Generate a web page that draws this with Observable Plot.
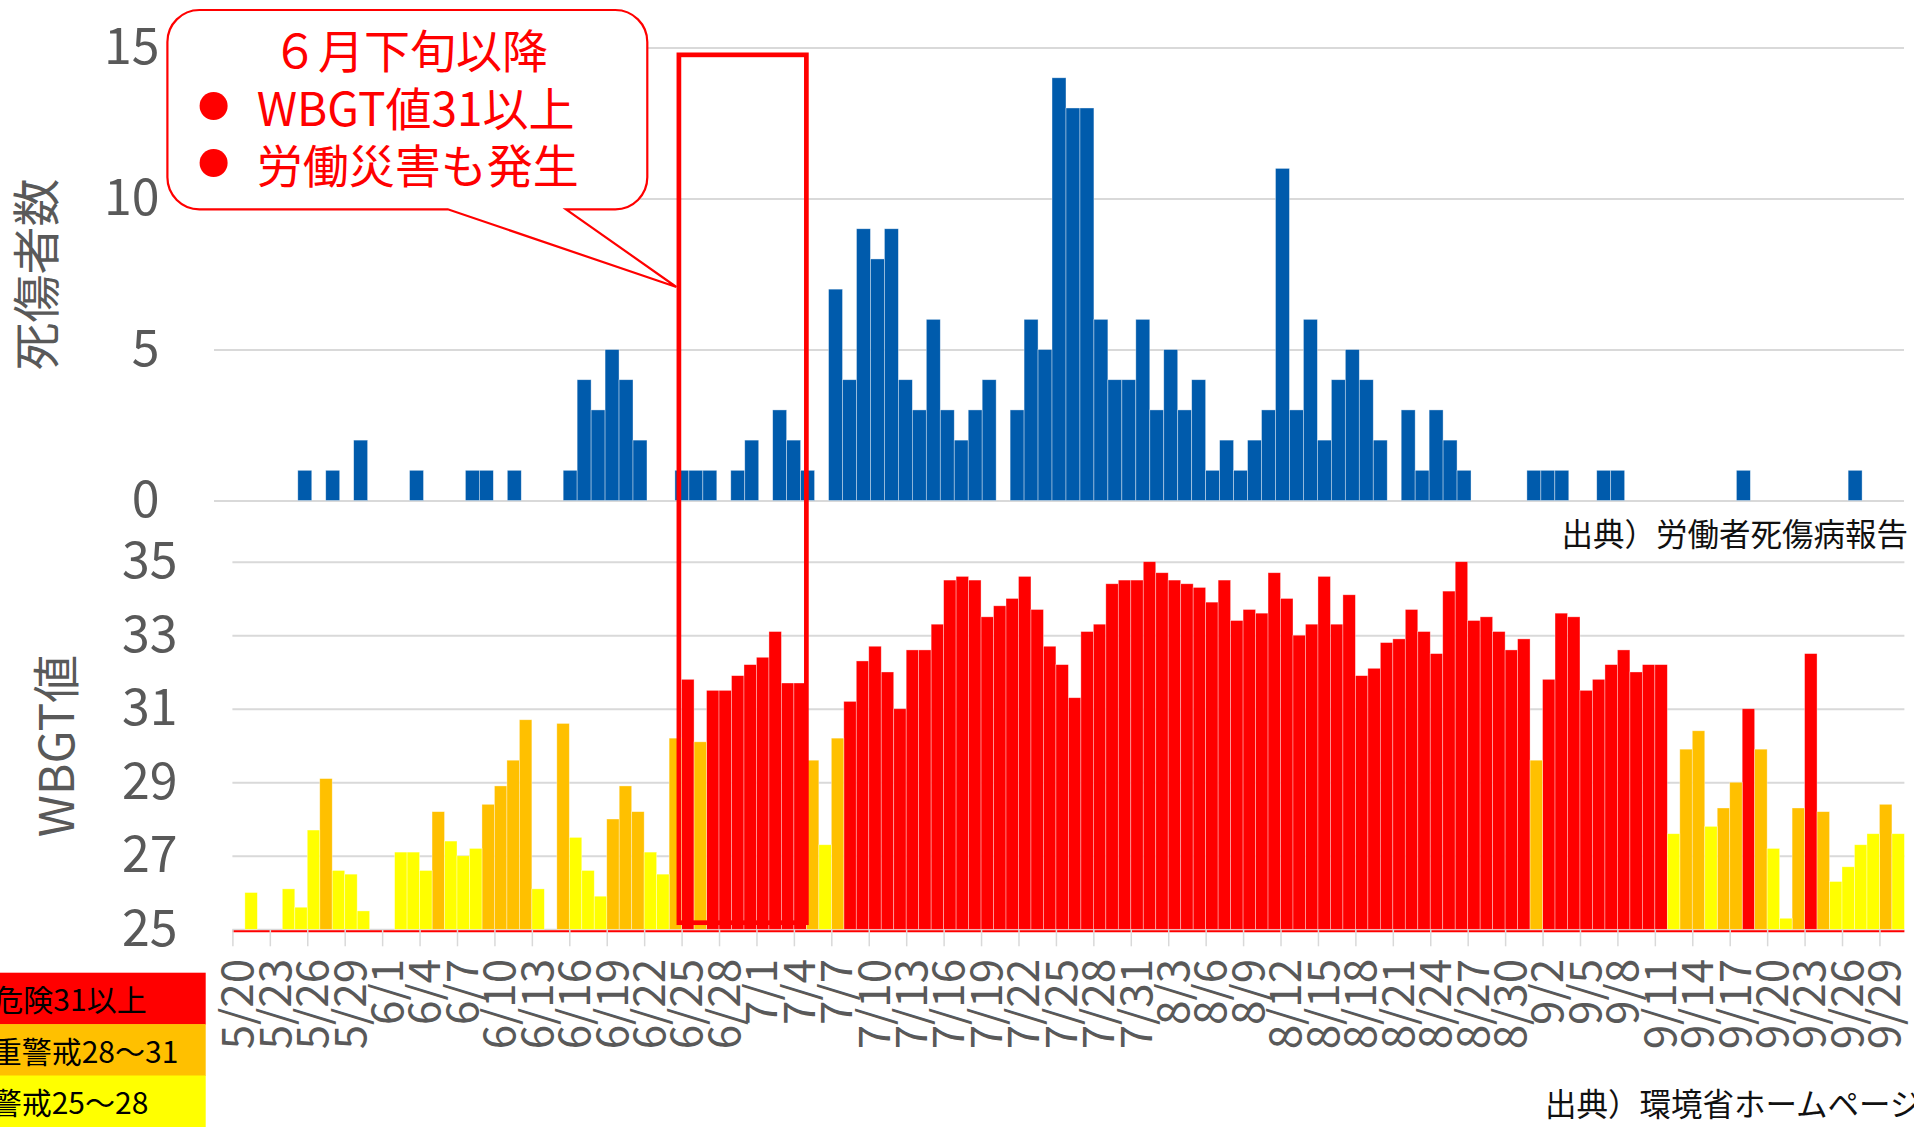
<!DOCTYPE html>
<html><head><meta charset="utf-8">
<script src="https://cdn.jsdelivr.net/npm/d3@7"></script>
<script src="https://cdn.jsdelivr.net/npm/@observablehq/plot@0.6"></script>
<style>
html,body{margin:0;padding:0;background:#fff;overflow:hidden;}
#wrap{position:relative;width:1914px;height:1127px;font-family:"Noto Sans CJK JP","Noto Sans",sans-serif;}
#wrap > *{position:absolute;left:0;}
</style></head><body><div id="wrap"></div>
<script>
// ---------------- data ----------------
const YEAR = 2018;
const wbgtStart = "5/20";
const wbgtValues = [
  null,26.0,null,null,26.1,25.6,27.7,29.1,26.6,26.5,
  25.5,null,null,27.1,27.1,26.6,28.2,27.4,27.0,27.2,
  28.4,28.9,29.6,30.7,26.1,null,30.6,27.5,26.6,25.9,
  28.0,28.9,28.2,27.1,26.5,30.2,31.8,30.1,31.5,31.5,
  31.9,32.2,32.4,33.1,31.7,31.7,29.6,27.3,30.2,31.2,
  32.3,32.7,32.0,31.0,32.6,32.6,33.3,34.5,34.6,34.5,
  33.5,33.8,34.0,34.6,33.7,32.7,32.2,31.3,33.1,33.3,
  34.4,34.5,34.5,35.0,34.7,34.5,34.4,34.3,33.9,34.5,
  33.4,33.7,33.6,34.7,34.0,33.0,33.3,34.6,33.3,34.1,
  31.9,32.1,32.8,32.9,33.7,33.1,32.5,34.2,35.0,33.4,
  33.5,33.1,32.6,32.9,29.6,31.8,33.6,33.5,31.5,31.8,
  32.2,32.6,32.0,32.2,32.2,27.6,29.9,30.4,27.8,28.3,
  29.0,31.0,29.9,27.2,25.3,28.3,32.5,28.2,26.3,26.7,
  27.3,27.6,28.4,27.6
];
const deathsStart = "6/1";
const deathsValues = [
  0,0,0,0,0,0,1,0,1,0,
  2,0,0,0,1,0,0,0,1,1,
  0,1,0,0,0,1,4,3,5,4,
  2,0,0,1,1,1,0,1,2,0,
  3,2,1,0,7,4,9,8,9,4,
  3,6,3,2,3,4,0,3,6,5,
  14,13,13,6,4,4,6,3,5,3,
  4,1,2,1,2,3,11,3,6,2,
  4,5,4,2,0,3,1,3,2,1,
  0,0,0,0,1,1,1,0,0,1,
  1,0,0,0,0,0,0,0,0,1,
  0,0,0,0,0,0,0,1,0,0,
  0
];
const tickLabels = ["5/20","5/23","5/26","5/29","6/1","6/4","6/7","6/10","6/13","6/16","6/19","6/22","6/25","6/28",
  "7/1","7/4","7/7","7/10","7/13","7/16","7/19","7/22","7/25","7/28","7/31","8/3","8/6","8/9","8/12","8/15",
  "8/18","8/21","8/24","8/27","8/30","9/2","9/5","9/8","9/11","9/14","9/17","9/20","9/23","9/26","9/29"];
const deathsTicks = [0,5,10,15];
const wbgtTicks = [25,27,29,31,33,35];
const levelLabels = ["危険31以上","厳重警戒28～31","警戒25～28"];
const levelColors = ["#ff0000","#ffc000","#ffff00"];
const levelMins = [31,28,25];
const highlightRange = ["6/25","7/4"];
const calloutTitle = "６月下旬以降";
const calloutPoints = ["WBGT値31以上","労働災害も発生"];
const yTitleDeaths = "死傷者数";
const yTitleWbgt = "WBGT値";
const sourceDeaths = "出典）労働者死傷病報告";
const sourceWbgt = "出典）環境省ホームページ";

// ---------------- helpers ----------------
const DAY = 864e5;
const W = 1914, H = 1127;
const FONT = '"Noto Sans CJK JP","Noto Sans",sans-serif';
const GRID = "#d9d9d9", AXIS_TEXT = "#595959", BLUE = "#005bac";
const md = s => { const [m, d] = s.split("/").map(Number); return new Date(Date.UTC(YEAR, m - 1, d)); };
const addDays = (dt, n) => new Date(+dt + n * DAY);

const w0 = md(wbgtStart);
const wbgt = wbgtValues.map((v, i) => ({date: addDays(w0, i), value: v}))
  .filter(d => d.value != null)
  .map(d => ({...d, level: levelMins.findIndex(m => d.value >= m)}));
const d0 = md(deathsStart);
const deaths = deathsValues.map((v, i) => ({date: addDays(d0, i), value: v})).filter(d => d.value > 0);
const ticks = tickLabels.map(s => ({label: s, date: md(s)}));

// ---------------- layout ----------------
const TOP_H = 520, BOT_H = H - TOP_H;
const baseStyle = {fontFamily: FONT, fontSize: "50px", color: AXIS_TEXT, background: "transparent", overflow: "visible"};

const topChart = Plot.plot({
  width: W, height: TOP_H,
  marginLeft: 214, marginRight: 10, marginTop: 47.6, marginBottom: 19.5,
  style: baseStyle,
  x: {type: "utc", domain: [d0, addDays(d0, deathsValues.length)], axis: null},
  y: {domain: [0, 15], ticks: deathsTicks, tickSize: 0, tickPadding: 55, label: null},
  marks: [
    Plot.ruleY(deathsTicks, {stroke: GRID, strokeWidth: 2}),
    Plot.rect(deaths, {x1: "date", x2: d => addDays(d.date, 1), y1: 0, y2: "value",
      fill: BLUE, stroke: "#ffffff", strokeWidth: 0.7, strokeOpacity: 0.55}),
    Plot.text([yTitleDeaths], {frameAnchor: "left", dx: -175.5, rotate: -90, text: d => d,
      textAnchor: "middle", lineAnchor: "middle", fontSize: 48, fill: AXIS_TEXT})
  ]
});

const botChart = Plot.plot({
  width: W, height: BOT_H,
  marginLeft: 232.4, marginRight: 9.6, marginTop: 41.7, marginBottom: 197.7,
  style: baseStyle,
  x: {type: "utc", domain: [w0, addDays(w0, wbgtValues.length)], axis: null},
  y: {domain: [25, 35], ticks: wbgtTicks, tickSize: 0, tickPadding: 55.4, label: null},
  marks: [
    Plot.ruleY(wbgtTicks, {stroke: GRID, strokeWidth: 2}),
    ...levelColors.map((c, k) => Plot.rect(wbgt.filter(d => d.level === k), {
      x1: "date", x2: d => addDays(d.date, 1), y1: 25, y2: "value",
      fill: c, stroke: "#ffffff", strokeWidth: 0.7, strokeOpacity: 0.5})),
    Plot.ruleY([25], {stroke: "#ff0000", strokeWidth: 2, dy: 1.5}),
    Plot.ruleX(ticks, {x: "date", y1: 25, y2: 25, insetBottom: -17, stroke: GRID, strokeWidth: 1.5}),
    Plot.text(ticks, {x: d => new Date(+d.date + DAY / 2), frameAnchor: "bottom", text: "label",
      rotate: -90, textAnchor: "end", lineAnchor: "middle", dy: 29, fontSize: 44, fill: AXIS_TEXT}),
    Plot.text([yTitleWbgt], {frameAnchor: "left", dx: -174.4, rotate: -90, text: d => d,
      textAnchor: "middle", lineAnchor: "middle", fontSize: 48, fill: AXIS_TEXT})
  ]
});

const wrap = document.getElementById("wrap");
topChart.style.top = "0px";
botChart.style.top = TOP_H + "px";
wrap.append(topChart, botChart);

// ---------------- annotations overlay ----------------
const mk = s => d3.scaleUtc().domain(s.domain).range(s.range);
const mkL = s => d3.scaleLinear().domain(s.domain).range(s.range);
const bx = mk(botChart.scale("x"));
const ty = mkL(topChart.scale("y"));
const by = mkL(botChart.scale("y"));

const svg = d3.create("svg").attr("width", W).attr("height", H)
  .style("position", "absolute").style("top", "0px").style("left", "0px")
  .style("font-family", FONT);

// highlight rectangle spanning both panels
const rx1 = bx(md(highlightRange[0])) - 2.7;
const rx2 = bx(addDays(md(highlightRange[1]), 1));
const ry1 = ty(14.76);
const ry2 = TOP_H + by(25.18);
svg.append("rect").attr("x", rx1).attr("y", ry1).attr("width", rx2 - rx1).attr("height", ry2 - ry1)
  .attr("fill", "none").attr("stroke", "#ff0000").attr("stroke-width", 4.7);

// callout bubble
const L = 167.4, R = 647.3, T = 10, B = 209.3, r = 32, pa = 447.8, pb = 566;
const tipX = rx1 - 2.5, tipY = 287;
const p = `M${L + r},${T} H${R - r} A${r},${r} 0 0 1 ${R},${T + r} V${B - r} A${r},${r} 0 0 1 ${R - r},${B}
  H${pb} L${tipX},${tipY} L${pa},${B} H${L + r} A${r},${r} 0 0 1 ${L},${B - r} V${T + r} A${r},${r} 0 0 1 ${L + r},${T} Z`;
svg.append("path").attr("d", p).attr("fill", "#fff").attr("stroke", "#ff0000").attr("stroke-width", 2.2);
svg.append("text").attr("x", 410).attr("y", 48).attr("text-anchor", "middle").attr("dominant-baseline", "central")
  .attr("font-size", 46).attr("fill", "#ff0000").text(calloutTitle);
calloutPoints.forEach((t, i) => {
  const yy = 106 + i * 57;
  svg.append("circle").attr("cx", 213.6).attr("cy", yy).attr("r", 14).attr("fill", "#ff0000");
  svg.append("text").attr("x", 256.7).attr("y", yy).attr("dominant-baseline", "central")
    .attr("font-size", 46).attr("fill", "#ff0000").text(t);
});

// sources
svg.append("text").attr("x", 1908).attr("y", 532).attr("text-anchor", "end").attr("dominant-baseline", "central")
  .attr("font-size", 31.5).attr("fill", "#111").text(sourceDeaths);
svg.append("text").attr("x", 1545).attr("y", 1102).attr("dominant-baseline", "central")
  .attr("font-size", 31.5).attr("fill", "#111").text(sourceWbgt);

// level legend
const legTop = 972.7, legH = 51.4;
levelLabels.forEach((lab, k) => {
  svg.append("rect").attr("x", -10).attr("y", legTop + k * legH).attr("width", 215.7).attr("height", legH + 0.5)
    .attr("fill", levelColors[k]);
  svg.append("text").attr("x", 70).attr("y", legTop + k * legH + legH / 2).attr("text-anchor", "middle")
    .attr("dominant-baseline", "central").attr("font-size", 30).attr("fill", "#000").text(lab);
});

wrap.append(svg.node());
</script></body></html>
